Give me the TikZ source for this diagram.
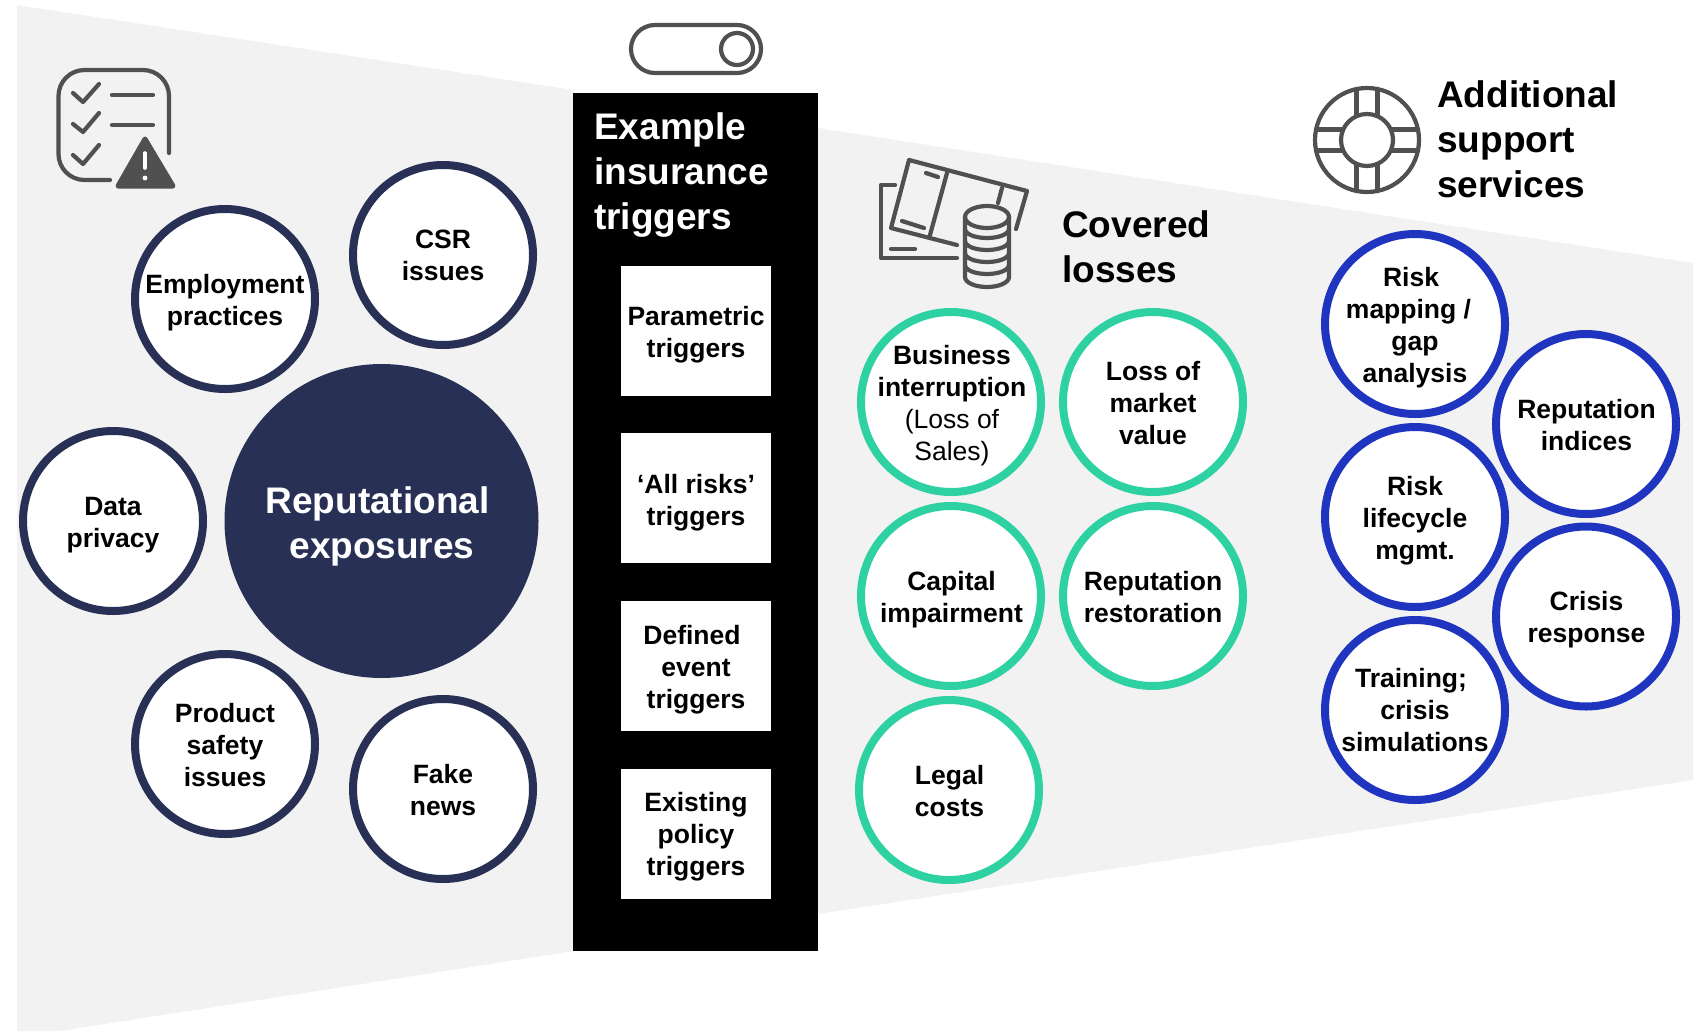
\documentclass[tikz,border=0pt]{standalone}
\usepackage{fontspec}
\setmainfont{Liberation Sans}
\definecolor{navy}{HTML}{283055}
\definecolor{mint}{HTML}{2ED1A2}
\definecolor{royal}{HTML}{1F35C0}
\definecolor{panel}{HTML}{F2F2F2}
\definecolor{icon}{HTML}{505050}
\tikzset{
  x=1pt,y=-1pt,
  bub/.style={circle,draw,line width=8pt,fill=white,minimum size=180pt,inner sep=-30pt,align=center,
    font=\fontsize{26.5}{32}\selectfont\bfseries,text=black},
  exposure/.style={bub,draw=navy},
  loss/.style={bub,draw=mint},
  support/.style={bub,draw=royal},
  trigger/.style={rectangle,fill=white,minimum width=150pt,minimum height=130pt,inner sep=0pt,align=center,
    font=\fontsize{26.5}{32}\selectfont\bfseries,text=black},
  heading/.style={inner sep=0pt,align=left,font=\fontsize{37}{45}\selectfont\bfseries},
  ic/.style={draw=icon,line width=4.2pt,line cap=round,line join=round},
}
\newcommand{\tsp}{\hspace*{8pt}}
\begin{document}
\begin{tikzpicture}
\useasboundingbox (0,0) rectangle (1699,1031);
\begin{scope}
\clip (0,0) rectangle (1699,1031);
\fill[panel] (17,5) -- (574,90) -- (574,951) -- (60,1031) -- (17,1031) -- cycle;
\fill[panel] (818,128) -- (1693,263) -- (1693,780) -- (818,914) -- cycle;
\end{scope}
\fill[black] (573,93) rectangle (818,951);

% checklist icon
\draw[ic] (110,180) -- (84.5,180) arc[start angle=90,end angle=180,radius=26] -- (58.5,96) arc[start angle=180,end angle=270,radius=26] -- (143,70) arc[start angle=-90,end angle=0,radius=26] -- (169,153);
\draw[ic] (73,93) -- (83,102) -- (99,84);
\draw[ic] (73,124) -- (83,132) -- (99,113);
\draw[ic] (73,155) -- (83,164) -- (99,145);
\draw[ic] (112,95) -- (153,95);
\draw[ic] (112,125) -- (153,125);
\fill[icon,draw=icon,line width=5pt,line join=round] (145,139) -- (118,186) -- (173,186) -- cycle;
\draw[white,line width=3.6pt,line cap=round] (145,153) -- (145,168);
\fill[white] (145,178) circle (2.4);

% toggle icon
\draw[ic] (655,25) -- (737,25) arc[start angle=-90,end angle=90,radius=24] -- (655,73) arc[start angle=90,end angle=270,radius=24] -- cycle;
\draw[ic] (737,49) circle (16);

% money icon
\draw[ic] (895,185) -- (881,185) -- (881,258) -- (957,258);
\draw[ic] (891,249) -- (915,249);
\draw[ic] (957,245) -- (891,228) -- (909,160) -- (1027,191) -- (1016,229);
\draw[ic] (947,173) -- (930,235);
\draw[ic] (1002,188) -- (998,203);
\draw[ic] (926,173) -- (938,177);
\draw[ic] (902,221) -- (924,228);
\draw[ic] (987,217) ellipse[x radius=22,y radius=11];
\draw[ic] (965,217) -- (965,277) arc[start angle=180,end angle=0,x radius=22,y radius=10] -- (1009,217);
\foreach \yy in {229,241,253,265}{\draw[ic] (965,\yy) arc[start angle=180,end angle=0,x radius=22,y radius=9];}

% lifebuoy icon
\draw[ic] (1367,140) circle (52);
\draw[ic] (1367,140) circle (26);
\draw[ic] (1356.5,89) -- (1356.5,116);
\draw[ic] (1377.5,89) -- (1377.5,116);
\draw[ic] (1356.5,191) -- (1356.5,164);
\draw[ic] (1377.5,191) -- (1377.5,164);
\draw[ic] (1316,129.5) -- (1343,129.5);
\draw[ic] (1316,150.5) -- (1343,150.5);
\draw[ic] (1418,129.5) -- (1391,129.5);
\draw[ic] (1418,150.5) -- (1391,150.5);

% left
\node[circle,fill=navy,minimum size=314pt,inner sep=0pt] (core) at (381.5,521) {};
\node[inner sep=0pt,align=center,text=white,font=\fontsize{37}{45}\selectfont\bfseries] (coretext) at (380,526) {Reputational\hspace*{4.8pt}\\\hspace*{4pt}exposures};
\node[exposure] (csr) at (443,255) {CSR\\issues};
\node[exposure] (emp) at (225,299) {};
\node[exposure,draw=none,fill=none] (emptext) at (225,302.3) {Employment\\practices};
\node[exposure] (data) at (113,521) {};
\node[exposure,draw=none,fill=none] (datatext) at (113,525.3) {Data\\privacy};
\node[exposure] (prod) at (225,744) {};
\node[exposure,draw=none,fill=none] (prodtext) at (225,745) {Product\\safety\\issues};
\node[exposure] (fake) at (443,789) {};
\node[exposure,draw=none,fill=none] (faketext) at (443,790) {Fake\\news};

% middle
\node[heading,text=white,anchor=west] (mid) at (594,175.2) {Example\\insurance\\triggers};
\node[trigger] (t1) at (696,331) {};
\node[trigger,fill=none] (t1text) at (696,334.5) {Parametric\\triggers};
\node[trigger] (t2) at (696,498) {};
\node[trigger,fill=none] (t2text) at (696,502.5) {‘All risks’\\triggers};
\node[trigger] (t3) at (696,666) {};
\node[trigger,fill=none] (t3text) at (696,669.3) {Defined\tsp\\event\\triggers};
\node[trigger] (t4) at (696,834) {};
\node[trigger,fill=none] (t4text) at (696,836.2) {Existing\\policy\\triggers};

% covered losses
\node[heading,anchor=west] (cov) at (1062,247) {Covered\\losses};
\node[loss] (l1) at (951,402) {};
\node[loss,draw=none,fill=none] (l1text) at (952,405.3) {Business\\interruption\\{\mdseries (Loss of}\\{\mdseries Sales)}};
\node[loss] (l2) at (1153,402) {};
\node[loss,draw=none,fill=none] (l2text) at (1153,402.8) {Loss of\\market\\value};
\node[loss] (l3) at (951,596) {};
\node[loss,draw=none,fill=none] (l3text) at (951.5,599.3) {Capital\\impairment};
\node[loss] (l4) at (1153,596) {};
\node[loss,draw=none,fill=none] (l4text) at (1153,597) {Reputation\\restoration};
\node[loss] (l5) at (949,790) {};
\node[loss,draw=none,fill=none] (l5text) at (949.5,791) {Legal\\costs};

% support
\node[heading,anchor=west] (sup) at (1437,139) {Additional\\support\\services};
\node[support] (s1) at (1415,324) {};
\node[support,draw=none,fill=none] (s1text) at (1415,327.3) {Risk\tsp\\\mbox{mapping /\kern 13pt}\\gap\tsp\\analysis};
\node[support] (s2) at (1586,424) {};
\node[support,draw=none,fill=none] (s2text) at (1586.5,425) {Reputation\\indices};
\node[support] (s3) at (1415,517) {};
\node[support,draw=none,fill=none] (s3text) at (1415,520.3) {Risk\\lifecycle\\mgmt.};
\node[support] (s4) at (1586,616.5) {};
\node[support,draw=none,fill=none] (s4text) at (1586.5,619.5) {Crisis\\response};
\node[support] (s5) at (1415,710) {};
\node[support,draw=none,fill=none] (s5text) at (1415,710) {Training;\tsp\\crisis\tsp\\simulations};
\end{tikzpicture}
\end{document}
